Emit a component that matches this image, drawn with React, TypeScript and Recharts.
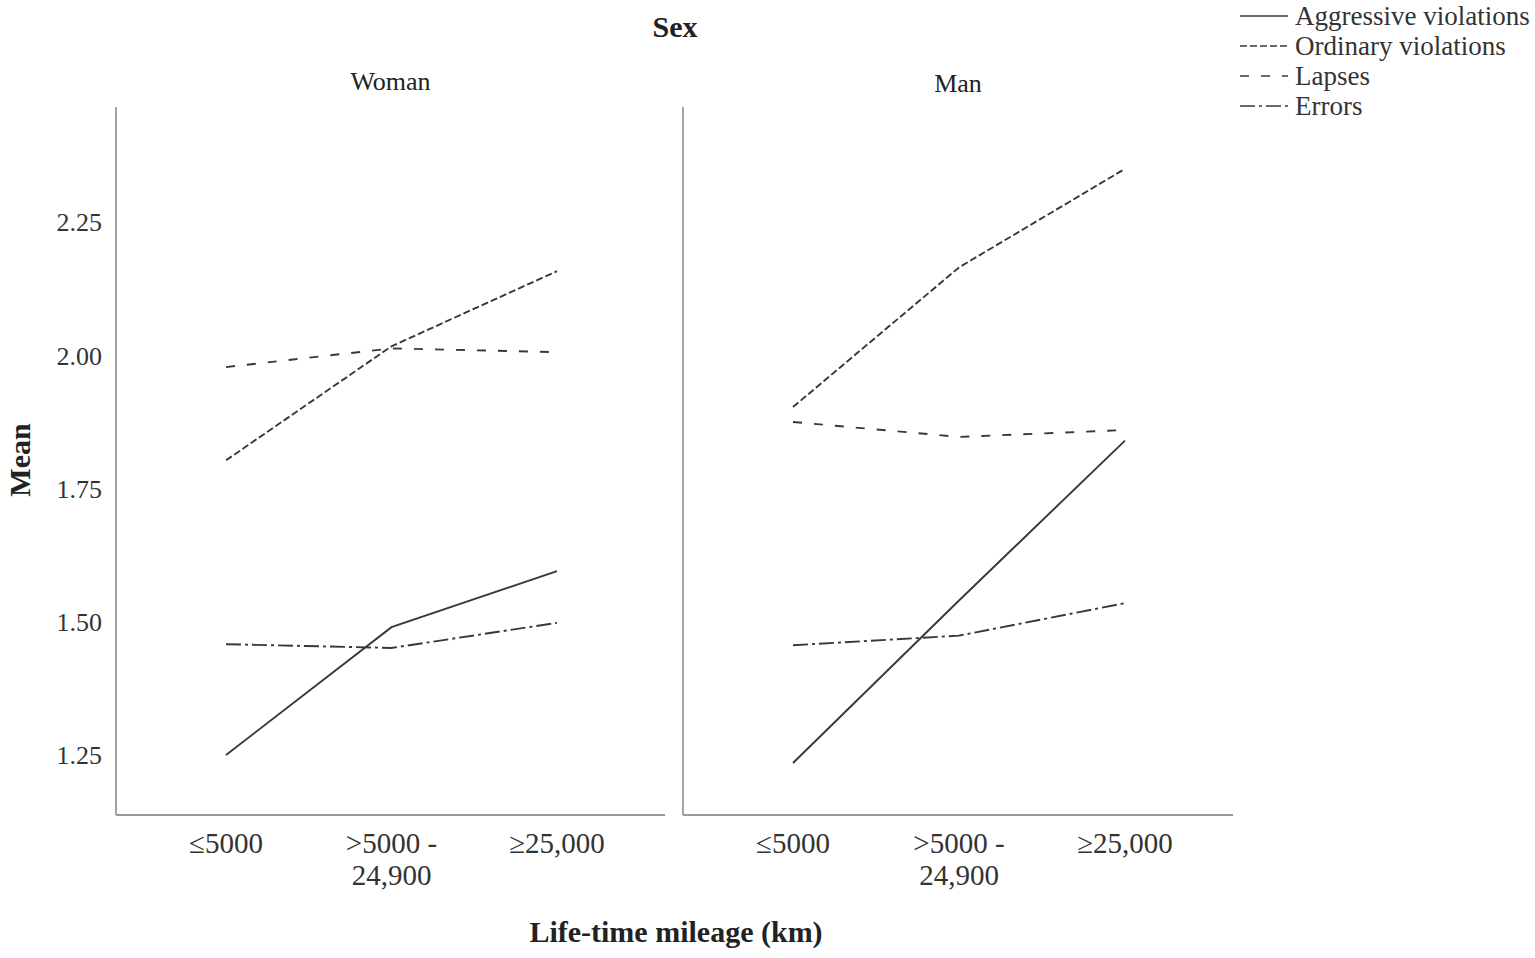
import React from 'react';
import { LineChart, Line, XAxis, YAxis } from 'recharts';

const categories = ['≤5000', '>5000 -\n24,900', '≥25,000'];
const yTicks = [1.25, 1.5, 1.75, 2.0, 2.25];

const womanAggressive = [1.25, 1.49, 1.595];
const womanOrdinary = [1.803, 2.017, 2.158];
const womanLapses = [1.978, 2.013, 2.006];
const womanErrors = [1.458, 1.451, 1.498];

const manAggressive = [1.235, 1.54, 1.84];
const manOrdinary = [1.903, 2.165, 2.35];
const manLapses = [1.875, 1.847, 1.86];
const manErrors = [1.456, 1.474, 1.535];

const seriesNames = ['Aggressive violations', 'Ordinary violations', 'Lapses', 'Errors'];
const seriesKeys = ['aggressive', 'ordinary', 'lapses', 'errors'];
const seriesDash = ['', '7 3', '9 12', '15 4 3 4'];

const FONT = "'Liberation Serif', 'Times New Roman', serif";
const LINE_COLOR = '#383838';
const AXIS_COLOR = '#9a9a9a';
const Y_DOMAIN: [number, number] = [1.1375, 2.466];

const buildData = (a: number[], o: number[], l: number[], e: number[]) =>
  categories.map((c, i) => ({ cat: c, aggressive: a[i], ordinary: o[i], lapses: l[i], errors: e[i] }));

const womanData = buildData(womanAggressive, womanOrdinary, womanLapses, womanErrors);
const manData = buildData(manAggressive, manOrdinary, manLapses, manErrors);

const XTick = (props: any) => {
  const { x, y, payload } = props;
  const lines = String(payload.value).split('\n');
  return (
    <g>
      {lines.map((ln, i) => (
        <text key={i} x={x} y={y + 38 + i * 32} textAnchor="middle" fill="#333" fontFamily={FONT} fontSize={29}>
          {ln}
        </text>
      ))}
    </g>
  );
};

const renderLines = () =>
  seriesKeys.map((k, i) => (
    <Line
      key={k}
      type="linear"
      dataKey={k}
      name={seriesNames[i]}
      stroke={LINE_COLOR}
      strokeWidth={1.9}
      strokeDasharray={seriesDash[i] || undefined}
      dot={false}
      activeDot={false}
      isAnimationActive={false}
    />
  ));

const PLOT_TOP = 107;
const X_AXIS_H = 60;
const BOTTOM_MARGIN = 958 - 815 - X_AXIS_H;

export default function App() {
  return (
    <div style={{ position: 'absolute', left: 0, top: 0, width: 1535, height: 958, background: '#fff', fontFamily: FONT }}>
      <div style={{ position: 'absolute', left: 0, top: 0 }}>
        <LineChart width={680} height={958} data={womanData} margin={{ top: PLOT_TOP, right: 15, bottom: BOTTOM_MARGIN, left: 16 }}>
          <XAxis
            dataKey="cat"
            type="category"
            height={X_AXIS_H}
            padding={{ left: 110, right: 108 }}
            axisLine={{ stroke: AXIS_COLOR, strokeWidth: 1.8 }}
            tickLine={false}
            tickSize={0}
            tickMargin={0}
            tick={<XTick />}
            interval={0}
          />
          <YAxis
            type="number"
            domain={Y_DOMAIN}
            ticks={yTicks}
            allowDataOverflow
            width={100}
            axisLine={{ stroke: AXIS_COLOR, strokeWidth: 1.8 }}
            tickLine={false}
            tickSize={0}
            tickMargin={14}
            tickFormatter={(v: number) => v.toFixed(2)}
            tick={{ fill: '#333', fontFamily: FONT, fontSize: 26 }}
          />
          {renderLines()}
        </LineChart>
      </div>
      <div style={{ position: 'absolute', left: 682, top: 0 }}>
        <LineChart width={853} height={958} data={manData} margin={{ top: PLOT_TOP, right: 302, bottom: BOTTOM_MARGIN, left: 0 }}>
          <XAxis
            dataKey="cat"
            type="category"
            height={X_AXIS_H}
            padding={{ left: 110, right: 108 }}
            axisLine={{ stroke: AXIS_COLOR, strokeWidth: 1.8 }}
            tickLine={false}
            tickSize={0}
            tickMargin={0}
            tick={<XTick />}
            interval={0}
          />
          <YAxis
            type="number"
            domain={Y_DOMAIN}
            ticks={yTicks}
            allowDataOverflow
            width={1}
            axisLine={{ stroke: AXIS_COLOR, strokeWidth: 1.8 }}
            tickLine={false}
            tick={false}
          />
          {renderLines()}
        </LineChart>
      </div>

      <div style={{ position: 'absolute', left: 0, width: 1350, top: 10, textAlign: 'center', fontSize: 30, fontWeight: 'bold', color: '#222' }}>Sex</div>
      <div style={{ position: 'absolute', left: 116, width: 549, top: 67, textAlign: 'center', fontSize: 26, color: '#222' }}>Woman</div>
      <div style={{ position: 'absolute', left: 683, width: 550, top: 69, textAlign: 'center', fontSize: 26, color: '#222' }}>Man</div>
      <div style={{ position: 'absolute', left: 0, width: 1352, top: 915, textAlign: 'center', fontSize: 30, fontWeight: 'bold', color: '#222' }}>
        Life-time mileage (km)
      </div>
      <div
        style={{
          position: 'absolute',
          left: 20,
          top: 460,
          transform: 'translate(-50%, -50%) rotate(-90deg)',
          fontSize: 30,
          fontWeight: 'bold',
          color: '#222',
          whiteSpace: 'nowrap',
        }}
      >
        Mean
      </div>

      <svg style={{ position: 'absolute', left: 1236, top: 0 }} width={299} height={125}>
        {seriesNames.map((n, i) => {
          const cy = 16 + i * 30;
          return (
            <g key={n}>
              <line x1={4} x2={52} y1={cy} y2={cy} stroke={LINE_COLOR} strokeWidth={1.7} strokeDasharray={seriesDash[i] || undefined} />
              <text x={59} y={cy + 9} fontFamily={FONT} fontSize={27} fill="#333">
                {n}
              </text>
            </g>
          );
        })}
      </svg>
    </div>
  );
}
